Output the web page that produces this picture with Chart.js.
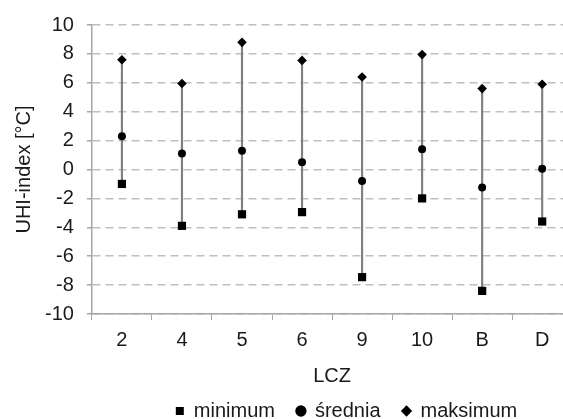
<!DOCTYPE html>
<html>
<head>
<meta charset="utf-8">
<script src="https://cdn.jsdelivr.net/npm/chart.js@4.4.1/dist/chart.umd.min.js"></script>
<style>
  html, body { margin: 0; padding: 0; background: #fff; overflow: hidden; }
  #wrap { width: 578px; height: 419px; }
</style>
</head>
<body>
<div id="wrap"><canvas id="chartLcz"></canvas></div>
<script>
const kategorie = ['2', '4', '5', '6', '9', '10', 'B', 'D'];
const minimum = [-1.0, -3.9, -3.1, -2.95, -7.45, -2.0, -8.4, -3.6];
const srednia = [2.3, 1.1, 1.3, 0.5, -0.8, 1.4, -1.25, 0.05];
const maksimum = [7.6, 5.95, 8.8, 7.55, 6.4, 7.95, 5.6, 5.9];
const yTicks = [-10, -8, -6, -4, -2, 0, 2, 4, 6, 8, 10];

const fontBase = { family: "'Liberation Sans', Arial, sans-serif", size: 20 };
const kolorTekstu = '#1a1a1a';

// linie min-max jako cienkie słupki pływające
const zakres = kategorie.map((k, i) => [minimum[i], maksimum[i]]);

// legenda w oryginale jest przesunięta w prawo
const przesuniecieLegendy = {
  id: 'przesuniecieLegendy',
  afterLayout(chart) {
    const lg = chart.legend;
    if (lg) { lg.left += 56; lg.right += 56; }
  }
};

const ctx = document.getElementById('chartLcz').getContext('2d');
new Chart(ctx, {
  type: 'bar',
  data: {
    labels: kategorie,
    datasets: [
      {
        type: 'line',
        label: 'minimum',
        data: minimum,
        showLine: false,
        pointStyle: 'rect',
        pointRadius: 5.8,
        backgroundColor: '#000',
        borderColor: '#000',
        borderWidth: 0,
        order: 1
      },
      {
        type: 'line',
        label: 'średnia',
        data: srednia,
        showLine: false,
        pointStyle: 'circle',
        pointRadius: 4,
        backgroundColor: '#000',
        borderColor: '#000',
        borderWidth: 0,
        order: 1
      },
      {
        type: 'line',
        label: 'maksimum',
        data: maksimum,
        showLine: false,
        pointStyle: 'rectRot',
        pointRadius: 4.8,
        backgroundColor: '#000',
        borderColor: '#000',
        borderWidth: 0,
        order: 1
      },
      {
        label: 'zakres',
        data: zakres,
        backgroundColor: '#808080',
        borderWidth: 0,
        barThickness: 1.5,
        order: 2
      }
    ]
  },
  options: {
    responsive: true,
    maintainAspectRatio: false,
    animation: false,
    layout: { padding: { left: 8, right: 5, top: 23, bottom: 0 } },
    plugins: {
      tooltip: { enabled: false },
      legend: {
        position: 'bottom',
        maxHeight: 40,
        labels: {
          usePointStyle: true,
          boxWidth: 8,
          boxHeight: 8,
          padding: 22,
          color: kolorTekstu,
          font: { family: fontBase.family, size: 20 },
          filter: item => item.text !== 'zakres'
        }
      }
    },
    scales: {
      x: {
        grid: {
          display: true,
          drawOnChartArea: false,
          drawTicks: true,
          tickLength: 6,
          color: '#a6a6a6',
          offset: true
        },
        border: { color: '#a6a6a6', width: 1.5 },
        ticks: { color: kolorTekstu, font: fontBase, padding: 8 },
        title: {
          display: true,
          text: 'LCZ',
          color: kolorTekstu,
          font: fontBase,
          padding: { top: 4, bottom: -9 }
        }
      },
      y: {
        min: -10,
        max: 10,
        afterBuildTicks: axis => { axis.ticks = yTicks.map(v => ({ value: v })); },
        grid: {
          color: '#bfbfbf',
          lineWidth: 1.5,
          tickLength: 5,
          tickColor: '#a6a6a6'
        },
        border: { color: '#a6a6a6', width: 1.5, dash: [8, 5] },
        ticks: { color: kolorTekstu, font: fontBase, padding: 13, autoSkip: false },
        title: {
          display: true,
          text: 'UHI-index [°C]',
          color: kolorTekstu,
          font: fontBase,
          padding: { top: 4, bottom: -4 }
        }
      }
    }
  },
  plugins: [przesuniecieLegendy]
});
</script>
</body>
</html>
